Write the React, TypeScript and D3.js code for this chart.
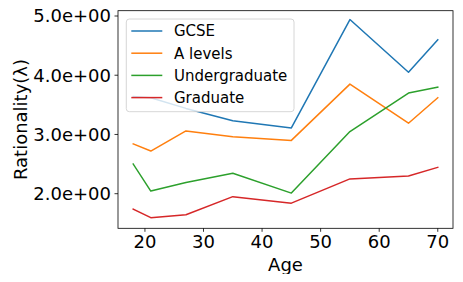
import React, { useRef, useEffect } from "react";
import * as d3 from "d3";

const ages = [18, 21, 27, 35, 45, 55, 65, 70];
const seriesNames = ["GCSE", "A levels", "Undergraduate", "Graduate"];
const gcse = [3.64, 3.62, 3.44, 3.23, 3.11, 4.94, 4.05, 4.6];
const aLevels = [2.84, 2.72, 3.06, 2.96, 2.9, 3.85, 3.19, 3.62];
const undergraduate = [2.5, 2.045, 2.19, 2.345, 2.01, 3.05, 3.7, 3.8];
const graduate = [1.74, 1.595, 1.645, 1.95, 1.84, 2.25, 2.3, 2.445];
const xTicks = [20, 30, 40, 50, 60, 70];
const yTicks = [2, 3, 4, 5];

const colors = ["#1f77b4", "#ff7f0e", "#2ca02c", "#d62728"];

const App = () => {
  const svgRef = useRef<SVGSVGElement>(null);

  useEffect(() => {
    const width = 463;
    const height = 282;
    const left = 118, right = 453, top = 10.7, bottom = 228.3;
    const font = "DejaVu Sans, sans-serif";

    const svg = d3.select(svgRef.current);
    svg.selectAll("*").remove();
    svg.attr("width", width).attr("height", height);

    svg.append("rect").attr("width", width).attr("height", height).attr("fill", "#fff");

    const x = d3.scaleLinear().domain([15.4, 72.6]).range([left, right]);
    // 5.0 sits at 16px, 2.0 at 193.7px
    const y = d3.scaleLinear().domain([2, 5]).range([193.7, 16]);

    const data = [gcse, aLevels, undergraduate, graduate];

    const line = d3.line<number>()
      .x((_, i) => x(ages[i]))
      .y(d => y(d));

    svg.append("g")
      .selectAll("path")
      .data(data)
      .join("path")
      .attr("d", d => line(d))
      .attr("fill", "none")
      .attr("stroke", (_, i) => colors[i])
      .attr("stroke-width", 1.5)
      .attr("stroke-linejoin", "round")
      .attr("stroke-linecap", "square");

    // spines
    svg.append("rect")
      .attr("x", left).attr("y", top)
      .attr("width", right - left).attr("height", bottom - top)
      .attr("fill", "none").attr("stroke", "#000").attr("stroke-width", 0.8);

    // x axis
    const xAxis = svg.append("g");
    xAxis.selectAll("line")
      .data(xTicks)
      .join("line")
      .attr("x1", d => x(d)).attr("x2", d => x(d))
      .attr("y1", bottom).attr("y2", bottom + 3.5)
      .attr("stroke", "#000").attr("stroke-width", 0.8);
    xAxis.selectAll("text")
      .data(xTicks)
      .join("text")
      .attr("x", d => x(d))
      .attr("y", 247.5)
      .attr("text-anchor", "middle")
      .style("font-family", font)
      .style("font-size", "18px")
      .text(d => d);

    // y axis
    const yAxis = svg.append("g");
    yAxis.selectAll("line")
      .data(yTicks)
      .join("line")
      .attr("x1", left - 3.5).attr("x2", left)
      .attr("y1", d => y(d)).attr("y2", d => y(d))
      .attr("stroke", "#000").attr("stroke-width", 0.8);
    yAxis.selectAll("text")
      .data(yTicks)
      .join("text")
      .attr("x", left - 7)
      .attr("y", d => y(d))
      .attr("dy", "0.36em")
      .attr("text-anchor", "end")
      .style("font-family", font)
      .style("font-size", "18px")
      .text(d => d3.format(".1e")(d).replace("e+", "e+0"));

    svg.append("text")
      .attr("x", (left + right) / 2)
      .attr("y", 270.5)
      .attr("text-anchor", "middle")
      .style("font-family", font)
      .style("font-size", "18px")
      .text("Age");

    svg.append("text")
      .attr("transform", `translate(26.7,${(top + bottom) / 2}) rotate(-90)`)
      .attr("text-anchor", "middle")
      .style("font-family", font)
      .style("font-size", "18px")
      .text("Rationality(λ)");

    // legend
    const legend = svg.append("g");
    legend.append("rect")
      .attr("x", 126.3).attr("y", 19)
      .attr("width", 167.7).attr("height", 92.7)
      .attr("rx", 3)
      .attr("fill", "#fff").attr("fill-opacity", 0.8)
      .attr("stroke", "#cccccc").attr("stroke-width", 0.8);
    const rows = legend.selectAll("g")
      .data(seriesNames)
      .join("g")
      .attr("transform", (_, i) => `translate(0,${31 + i * 22.2})`);
    rows.append("line")
      .attr("x1", 131.3).attr("x2", 162.3)
      .attr("stroke", (_, i) => colors[i])
      .attr("stroke-width", 1.5);
    rows.append("text")
      .attr("x", 174)
      .attr("dy", "0.36em")
      .style("font-family", font)
      .style("font-size", "15px")
      .text(d => d);
  }, []);

  return (
    <div style={{ margin: -8 }}>
      <svg ref={svgRef} style={{ display: "block" }} />
    </div>
  );
};

export default App;
